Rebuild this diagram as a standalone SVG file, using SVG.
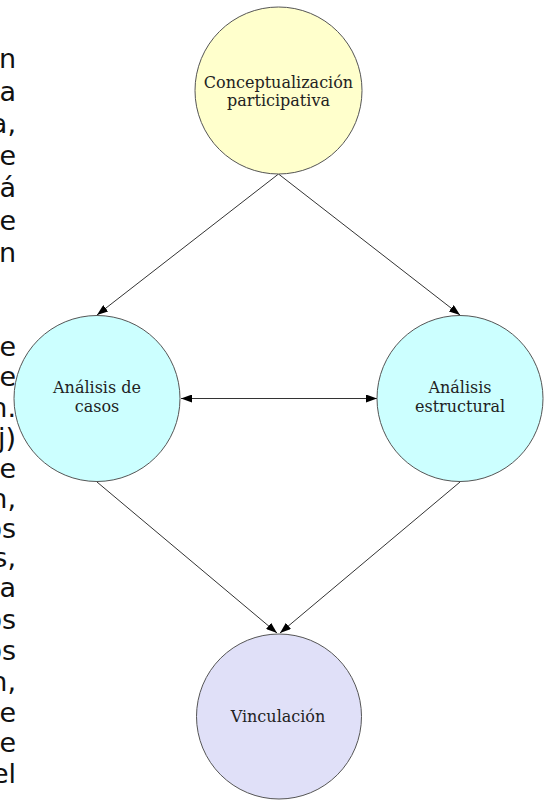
<svg xmlns="http://www.w3.org/2000/svg" width="545" height="800" viewBox="0 0 545 800">
<defs>
<style>
.node circle{stroke:#555;stroke-width:1}
.lbl{font-family:"DejaVu Serif","Liberation Serif",serif;font-size:16px;fill:#222;text-anchor:middle}
.frag{font-family:"DejaVu Sans","Liberation Sans",sans-serif;font-size:27px;fill:#111;text-anchor:end}
.edge{stroke:#333;stroke-width:1;fill:none}
</style>
<marker id="ah" markerWidth="11" markerHeight="8" refX="11" refY="4" orient="auto-start-reverse" markerUnits="userSpaceOnUse">
<path d="M0,0 L11,4 L0,8 z" fill="#000"/>
</marker>
</defs>
<rect width="545" height="800" fill="#fff"/>
<g id="fragments">
<text class="frag" x="16" y="68">n</text>
<text class="frag" x="16" y="101">a</text>
<text class="frag" x="16" y="133">a,</text>
<text class="frag" x="16" y="165">e</text>
<text class="frag" x="16" y="197">á</text>
<text class="frag" x="16" y="230">e</text>
<text class="frag" x="16" y="262">n</text>
<text class="frag" x="16" y="356">e</text>
<text class="frag" x="16" y="386">e</text>
<text class="frag" x="16" y="417">n.</text>
<text class="frag" x="16" y="447">j)</text>
<text class="frag" x="16" y="478">e</text>
<text class="frag" x="16" y="508">n,</text>
<text class="frag" x="16" y="538">os</text>
<text class="frag" x="16" y="567">s,</text>
<text class="frag" x="16" y="597">a</text>
<text class="frag" x="16" y="629">os</text>
<text class="frag" x="16" y="660">os</text>
<text class="frag" x="16" y="691">n,</text>
<text class="frag" x="16" y="722">e</text>
<text class="frag" x="16" y="752">e</text>
<text class="frag" x="16" y="783">el</text>
</g>
<g id="connectors">
<line class="edge" x1="278.5" y1="174" x2="97" y2="315" marker-end="url(#ah)"/>
<line class="edge" x1="278.5" y1="174" x2="460" y2="315" marker-end="url(#ah)"/>
<line class="edge" x1="181" y1="398.5" x2="377" y2="398.5" marker-start="url(#ah)" marker-end="url(#ah)"/>
<line class="edge" x1="97" y1="482" x2="277" y2="633" marker-end="url(#ah)"/>
<line class="edge" x1="460" y1="482" x2="280" y2="633" marker-end="url(#ah)"/>
</g>
<g id="conceptualizacion" class="node">
<circle cx="278.5" cy="90.5" r="83.5" fill="#ffffcc"/>
<text class="lbl" x="278.5" y="88">Conceptualización</text>
<text class="lbl" x="278.5" y="106">participativa</text>
</g>
<g id="analisis-casos" class="node">
<circle cx="97" cy="398.5" r="83" fill="#ccffff"/>
<text class="lbl" x="97" y="393">Análisis de</text>
<text class="lbl" x="97" y="412">casos</text>
</g>
<g id="analisis-estructural" class="node">
<circle cx="460" cy="398.5" r="83" fill="#ccffff"/>
<text class="lbl" x="460" y="393">Análisis</text>
<text class="lbl" x="460" y="412">estructural</text>
</g>
<g id="vinculacion" class="node">
<circle cx="279" cy="716.5" r="82.5" fill="#e0e0f8"/>
<text class="lbl" x="278" y="722">Vinculación</text>
</g>
</svg>
